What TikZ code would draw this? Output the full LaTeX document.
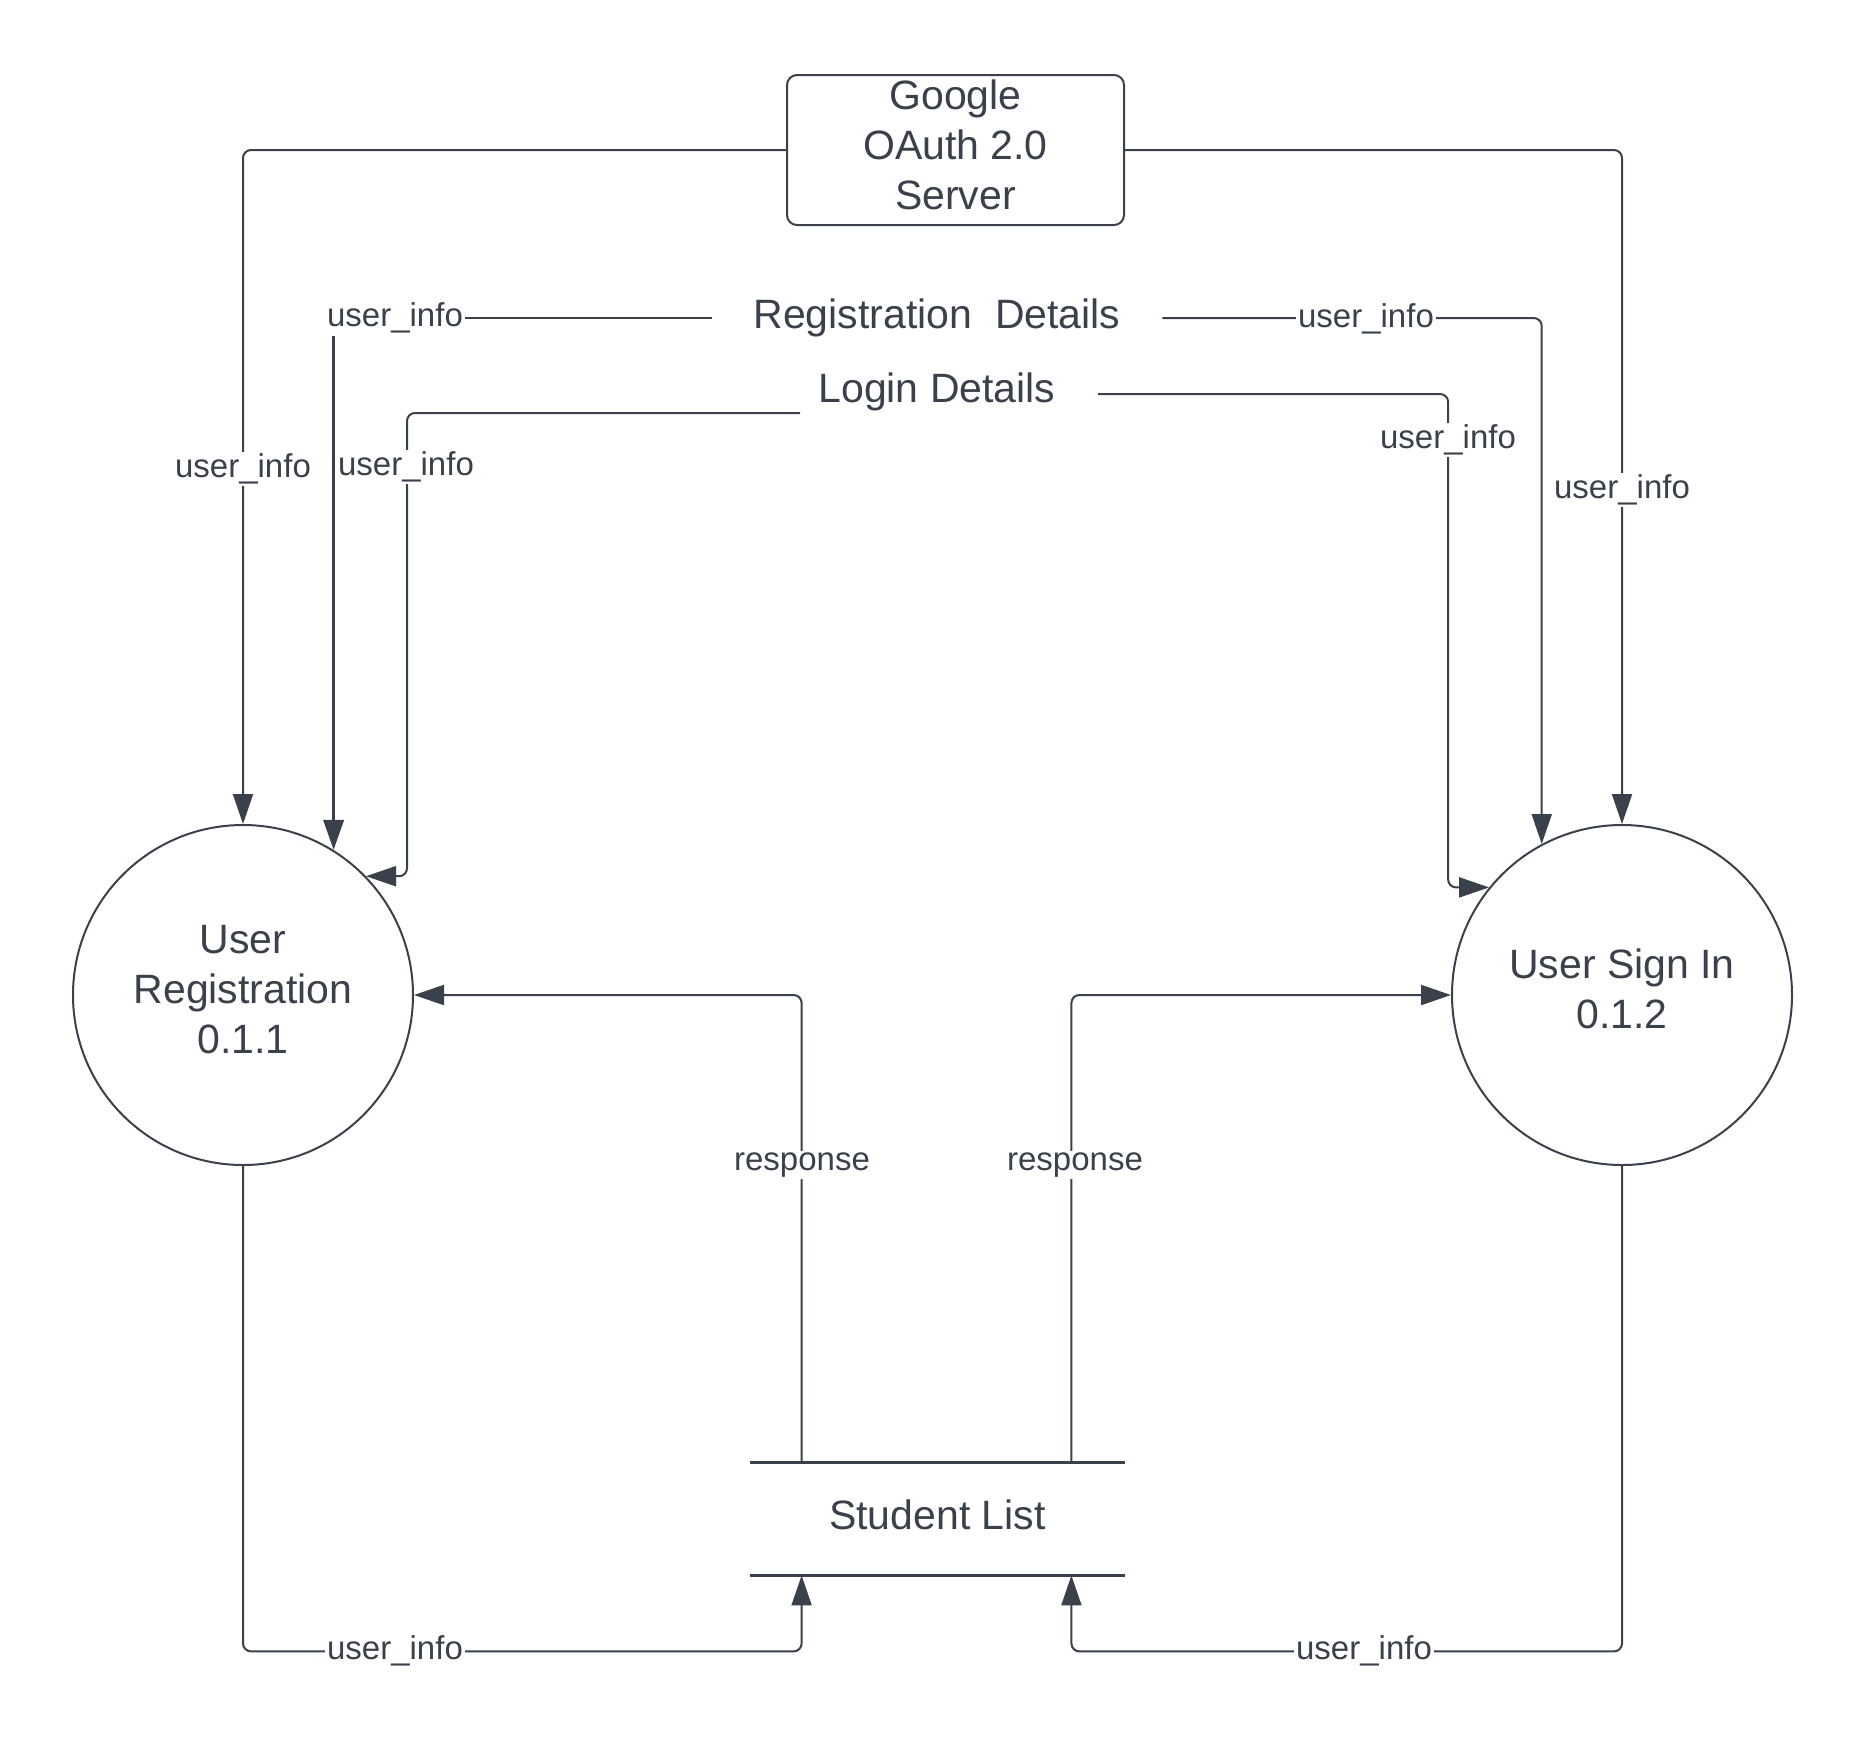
\documentclass[tikz,border=0pt]{standalone}
\usepackage{fontspec}
\setmainfont{Liberation Sans}
\usetikzlibrary{arrows.meta,calc}
\definecolor{ink}{HTML}{3A414A}
\newcommand\liftlines[2][1pt]{\raisebox{#1}[\height][\depth]{\begin{tabular}{@{}c@{}}#2\end{tabular}}}
\begin{document}
\begin{tikzpicture}[x=0.5pt,y=-0.5pt,
  every node/.style={text=ink},
  big/.style={font=\fontsize{20.5}{25}\selectfont, align=center},
  small/.style={font=\fontsize{16.5}{19}\selectfont},
  conn/.style={draw=ink, line width=1pt, rounded corners=4pt},
  arr/.style={conn, -{Triangle[length=15pt,width=10pt]}},
  thickarr/.style={arr, line width=1.75pt},
  proc/.style={circle, draw=ink, line width=1pt, minimum size=170pt, inner sep=0pt, big},
  lbl/.style={small, fill=white, inner sep=1pt}
]
\useasboundingbox (0,0) rectangle (1868,1746);

% nodes
\node[draw=ink, line width=1pt, rounded corners=5pt, inner sep=0pt, minimum width=168.5pt, minimum height=75pt, big] (oauth) at (955.5,150) {\liftlines[0.4pt]{Google\\OAuth 2.0\\Server}};
\node[proc] (ureg) at (243,995) {\liftlines{User\\Registration\\0.1.1}};
\node[proc] (usign) at (1622,995) {\liftlines{User Sign In\\0.1.2}};
\node[big, minimum width=225pt, inner sep=0pt] (regdet) at (937,318) {Registration\ \ Details};
\node[big] (logdet) at (937,392) {Login Details};
\coordinate (ldL) at (800,413);
\coordinate (ldR) at (1098,394);
\node[big, minimum width=187.5pt, minimum height=56pt, inner sep=0pt] (slist) at (937.5,1519) {\liftlines[-0.4pt]{Student List}};
\draw[ink, line width=1.25pt] (slist.north west) -- (slist.north east) (slist.south west) -- (slist.south east);
\node[lbl] (lblA) at (395,318) {user\_info};

% connectors
\draw[arr] (oauth.west) -| (ureg.north);
\draw[arr] (oauth.east) -| (usign.north);
\draw[conn] (regdet.west) -- (lblA.east);
\draw[thickarr] (lblA.south -| ureg.58.4) -- (ureg.58.4);
\draw[arr] (ldL) -| ($(ureg.44)+(41,0)$) -- (ureg.44);
\draw[arr] (regdet.east) -| (usign.118.4);
\draw[arr] (ldR) -| ($(usign.141.4)+(-41,0)$) -- (usign.141.4);
\draw[arr] ($(slist.north west)+(52,0)$) |- (ureg.east);
\draw[arr] ($(slist.north east)+(-54,0)$) |- (usign.west);
\draw[arr] (ureg.south) |- ($(slist.south west)+(52,76)$) -- ($(slist.south west)+(52,0)$);
\draw[arr] (usign.south) |- ($(slist.south east)+(-54,76)$) -- ($(slist.south east)+(-54,0)$);

% labels
\node[lbl] (lblB) at (243,469) {user\_info};
\node[lbl] (lblC) at (406,467) {user\_info};
\node[lbl] (lblD) at (1366,319) {user\_info};
\node[lbl] (lblE) at (1448,440) {user\_info};
\node[lbl] (lblF) at (1622,490) {user\_info};
\node[lbl] (lblG) at (802,1165) {response};
\node[lbl] (lblH) at (1075,1165) {response};
\node[lbl] (lblI) at (395,1651) {user\_info};
\node[lbl] (lblJ) at (1364,1651) {user\_info};
\end{tikzpicture}
\end{document}
